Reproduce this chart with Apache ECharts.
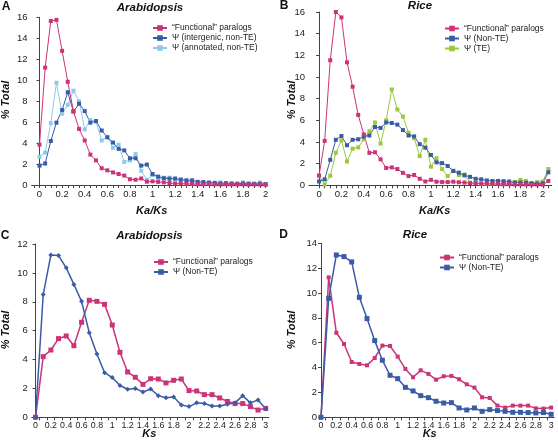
<!DOCTYPE html>
<html><head><meta charset="utf-8">
<script src="https://cdn.jsdelivr.net/npm/echarts@6/dist/echarts.min.js"></script>
<style>html,body{margin:0;padding:0;background:#fff}#c{width:558px;height:448px}</style>
</head><body><div id="c"></div>
<script>
// ---- data ----
const kaksBinsA = [0,0.05,0.1,0.15,0.2,0.25,0.3,0.35,0.4,0.45,0.5,0.55,0.6,0.65,0.7,0.75,0.8,0.85,0.9,0.95,1,1.05,1.1,1.15,1.2,1.25,1.3,1.35,1.4,1.45,1.5,1.55,1.6,1.65,1.7,1.75,1.8,1.85,1.9,1.95,2];
const kaksBinsB = [0,0.05,0.1,0.15,0.2,0.25,0.3,0.35,0.4,0.45,0.5,0.55,0.6,0.65,0.7,0.75,0.8,0.85,0.9,0.95,1,1.05,1.1,1.15,1.2,1.25,1.3,1.35,1.4,1.45,1.5,1.55,1.6,1.65,1.7,1.75,1.8,1.85,1.9,1.95,2,2.05];
const ksBins = [0,0.1,0.2,0.3,0.4,0.5,0.6,0.7,0.8,0.9,1,1.1,1.2,1.3,1.4,1.5,1.6,1.7,1.8,1.9,2,2.1,2.2,2.3,2.4,2.5,2.6,2.7,2.8,2.9,3];

const aFunctional = [3.85,11.2,15.65,15.75,12.8,9.85,7.05,5.35,4.25,2.9,2.35,1.6,1.4,1.2,1.05,0.9,0.55,0.5,0.62,0.32,0.35,0.3,0.25,0.19,0.13,0.13,0.1,0.1,0.07,0.07,0.1,0.06,0.05,0.08,0.05,0.05,0.06,0.04,0.05,0.04,0.03];
const aIntergenic = [1.85,2.05,4.2,5.95,7.15,8.85,7.0,7.75,7.05,5.95,6.1,5.2,4.55,4.05,3.45,3.3,2.55,2.55,1.85,1.95,1.05,0.8,0.65,0.6,0.62,0.52,0.45,0.45,0.3,0.28,0.22,0.2,0.15,0.18,0.15,0.12,0.15,0.12,0.1,0.12,0.08];
const aAnnotated = [2.7,3.1,5.9,9.75,6.8,7.65,9.0,8.0,5.3,6.2,6.05,4.25,4.6,3.55,3.85,2.2,2.35,2.95,1.35,0.5,0.95,0.6,0.7,0.7,0.5,0.45,0.35,0.3,0.2,0.2,0.25,0.2,0.25,0.15,0.1,0.12,0.25,0.15,0.15,0.25,0.1];

const bFunctional = [0.9,4.1,11.55,16.0,15.5,11.35,9.1,6.5,4.7,3.0,3.05,2.4,1.6,1.65,1.5,1.15,0.85,0.95,0.6,0.35,0.5,0.33,0.3,0.3,0.33,0.28,0.25,0.2,0.2,0.15,0.15,0.12,0.12,0.1,0.1,0.08,0.08,0.08,0.06,0.06,0.06,0.4];
const bNonTE = [0.35,0.55,2.35,4.2,4.55,3.7,4.2,4.25,4.5,4.6,5.38,5.3,5.8,5.75,5.6,5.1,4.6,4.52,3.8,3.48,2.8,2.12,2.05,1.78,1.32,1.17,0.92,0.78,0.6,0.55,0.45,0.4,0.4,0.38,0.35,0.25,0.25,0.22,0.18,0.15,0.18,1.2];
const bTE = [0.9,0.08,0.88,3.0,4.15,2.2,3.38,3.5,4.25,4.98,5.8,3.85,6.0,8.85,7.0,6.35,4.85,4.35,2.7,4.2,1.72,2.5,1.5,0.85,1.35,0.95,1.0,0.25,0.2,0.15,0.15,0.12,0.15,0.15,0.2,0.3,0.5,0.4,0.2,0.3,0.35,1.5];

const cFunctional = [0,4.2,4.66,5.45,5.63,4.96,6.58,8.1,8.03,7.82,6.39,4.5,3.14,2.77,2.28,2.67,2.65,2.38,2.56,2.65,1.85,1.82,1.57,1.57,1.34,1.1,0.95,0.95,0.74,0.5,0.62];
const cNonTE = [0,8.5,11.24,11.2,10.35,9.2,8.03,5.86,4.38,3.09,2.75,2.2,1.94,2.0,1.75,1.96,1.5,1.36,1.4,0.85,0.74,1.0,0.95,0.78,0.78,0.9,1.0,1.5,1.0,1.2,0.58];

const dFunctional = [0,11.26,6.8,5.9,4.45,4.29,4.18,4.77,5.77,5.74,4.88,3.89,3.22,3.78,3.49,3.03,3.3,3.33,3.06,2.65,2.39,1.61,1.56,0.94,0.78,0.94,0.94,0.94,0.72,0.7,0.78];
const dNonTE = [0,9.57,13.06,12.93,12.5,9.65,7.94,6.17,4.59,3.38,3.11,2.41,2.12,1.74,1.58,1.29,1.15,1.18,0.75,0.59,0.75,0.48,0.62,0.54,0.48,0.4,0.4,0.38,0.35,0.38,0.24];

const kaksTickLabels = [0,0.2,0.4,0.6,0.8,1,1.2,1.4,1.6,1.8,2];
const ksTickLabels = [0,0.2,0.4,0.6,0.8,1,1.2,1.4,1.6,1.8,2,2.2,2.4,2.6,2.8,3];

const NAME_F = '\u201cFunctional\u201d paralogs';
const NAME_IG = '\u03a8 (intergenic, non-TE)';
const NAME_AN = '\u03a8 (annotated, non-TE)';
const NAME_NT = '\u03a8 (Non-TE)';
const NAME_TE = '\u03a8 (TE)';

// ---- style ----
const PINK = '#cc3378', DBLUE = '#3a5ca6', LBLUE = '#8ccbea', GREEN = '#9bc83f';
const FONT = 'Liberation Sans, Arial, sans-serif';
const AXC = '#444';

function steps(a, b, s) { const r = []; for (let v = a; v <= b + 1e-9; v += s) r.push(+v.toFixed(3)); return r; }
function pairs(xs, ys) { return xs.map((x, i) => [x, ys[i]]); }

const grids = [
  {left: 31.6, top: 17.3, width: 236.2, height: 167.7},
  {left: 309, top: 12, width: 242.7, height: 173.3},
  {left: 31.7, top: 244, width: 237.1, height: 173.3},
  {left: 321, top: 243.3, width: 233.2, height: 174}
];

function xAxis(i, min, max, labels, ticks, fs) {
  return {
    type: 'value', gridIndex: i, min, max,
    axisLine: {show: true, onZero: false, lineStyle: {color: AXC, width: 1}},
    axisTick: {show: true, length: 3, inside: false, customValues: ticks, lineStyle: {color: AXC}},
    axisLabel: {customValues: labels, margin: 4, fontSize: fs, color: '#222', fontFamily: FONT, hideOverlap: false},
    splitLine: {show: false}
  };
}
function yAxis(i, max) {
  return {
    type: 'value', gridIndex: i, min: 0, max, interval: 2,
    axisLine: {show: true, lineStyle: {color: AXC, width: 1}},
    axisTick: {show: true, length: 3, lineStyle: {color: AXC}},
    axisLabel: {margin: 4, fontSize: 9.5, color: '#222', fontFamily: FONT},
    splitLine: {show: false}
  };
}
function line(name, i, xs, ys, color, sym, size, w) {
  return {
    type: 'line', name, xAxisIndex: i, yAxisIndex: i, data: pairs(xs, ys),
    symbol: sym, symbolSize: size, showAllSymbol: true,
    lineStyle: {color, width: w}, itemStyle: {color},
    animation: false, silent: true
  };
}
function legend(left, top, names) {
  return {
    left, top, orient: 'vertical', padding: 0, itemWidth: 14, itemHeight: 7, itemGap: 1,
    data: names, selectedMode: false,
    textStyle: {fontSize: 8.5, lineHeight: 9, color: '#222', fontFamily: FONT}
  };
}
function txt(x, y, s, font, rot) {
  return {type: 'text', x, y, rotation: rot || 0,
    style: {text: s, font, fill: '#111', textAlign: 'center', textVerticalAlign: 'middle'}};
}

const titleFont = 'italic bold 11.5px ' + FONT;
const letterFont = 'bold 12px ' + FONT;
const nameFont = 'italic bold 11px ' + FONT;

const option = {
  backgroundColor: '#fff',
  animation: false,
  grid: grids,
  xAxis: [
    xAxis(0, -0.07, 2.02, kaksTickLabels, steps(-0.05, 2, 0.05), 9.5),
    xAxis(1, -0.09, 2.08, kaksTickLabels, steps(0, 2.05, 0.05), 9.5),
    xAxis(2, -0.05, 3.04, ksTickLabels, steps(0.05, 3, 0.1), 8.8),
    xAxis(3, 0, 3.04, ksTickLabels, steps(0.05, 3, 0.1), 8.8)
  ],
  yAxis: [yAxis(0, 16), yAxis(1, 16), yAxis(2, 12), yAxis(3, 14)],
  legend: [
    legend(152, 23.5, [NAME_F, NAME_IG, NAME_AN]),
    legend(444, 24, [NAME_F, NAME_NT, NAME_TE]),
    legend(153, 257.5, [NAME_F, NAME_NT]),
    legend(439, 253, [NAME_F, NAME_NT])
  ],
  series: [
    line(NAME_AN, 0, kaksBinsA, aAnnotated, LBLUE, 'rect', 4, 1),
    line(NAME_IG, 0, kaksBinsA, aIntergenic, DBLUE, 'rect', 4, 1),
    line(NAME_F, 0, kaksBinsA, aFunctional, PINK, 'rect', 4, 1),
    line(NAME_TE, 1, kaksBinsB, bTE, GREEN, 'rect', 4, 1),
    line(NAME_NT, 1, kaksBinsB, bNonTE, DBLUE, 'rect', 4, 1),
    line(NAME_F, 1, kaksBinsB, bFunctional, PINK, 'rect', 4, 1),
    line(NAME_F, 2, ksBins, cFunctional, PINK, 'rect', 5, 1.5),
    line(NAME_NT, 2, ksBins, cNonTE, DBLUE, 'diamond', 5, 1.5),
    line(NAME_F, 3, ksBins, dFunctional, PINK, 'rect', 4, 1.5),
    line(NAME_NT, 3, ksBins, dNonTE, DBLUE, 'rect', 5, 1.5)
  ],
  graphic: [
    txt(6, 7, 'A', letterFont), txt(284, 6, 'B', letterFont),
    txt(5, 236, 'C', letterFont), txt(283.5, 235, 'D', letterFont),
    txt(150, 7.5, 'Arabidopsis', titleFont), txt(420, 6, 'Rice', titleFont),
    txt(149.5, 236, 'Arabidopsis', titleFont), txt(415, 235, 'Rice', titleFont),
    txt(6, 100, '% Total', nameFont, Math.PI / 2), txt(291.5, 100, '% Total', nameFont, Math.PI / 2),
    txt(5.5, 330, '% Total', nameFont, Math.PI / 2), txt(291.7, 330, '% Total', nameFont, Math.PI / 2),
    txt(151.7, 210.7, 'Ka/Ks', nameFont), txt(434.7, 210.7, 'Ka/Ks', nameFont),
    txt(149.3, 434, 'Ks', nameFont), txt(429.7, 434, 'Ks', nameFont)
  ]
};
const chart = echarts.init(document.getElementById('c'), null, {renderer: 'canvas'});
chart.setOption(option);
</script>
</body></html>
